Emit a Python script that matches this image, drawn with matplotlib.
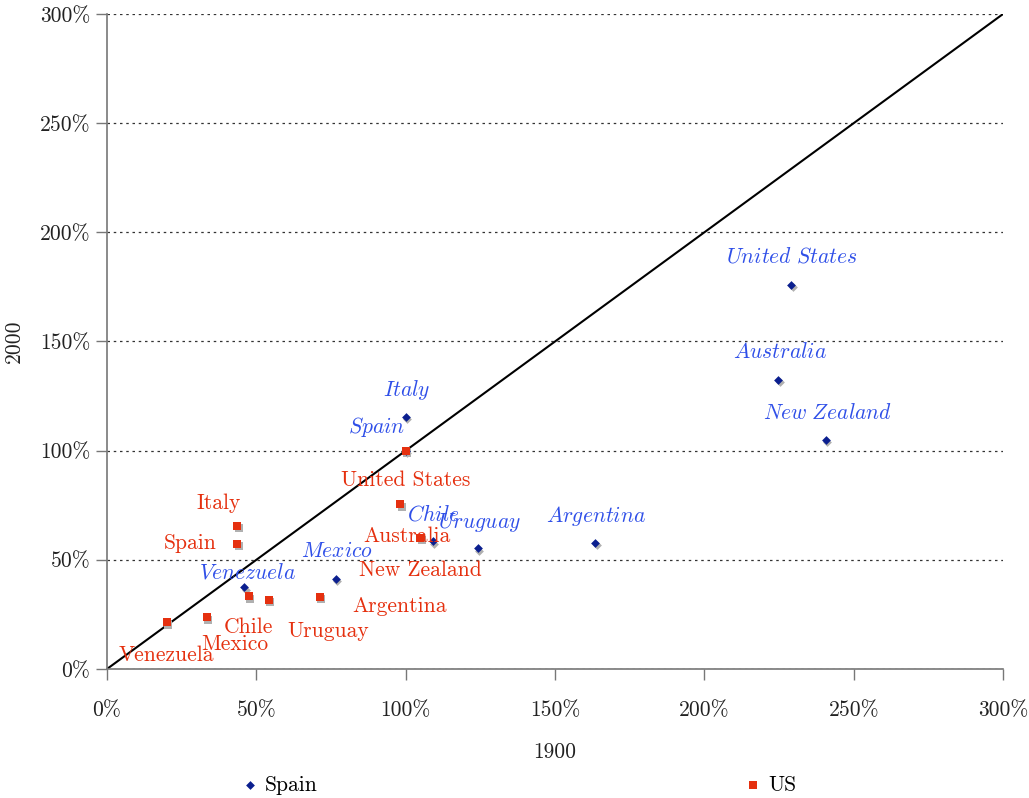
import matplotlib
matplotlib.use("Agg")
import matplotlib.pyplot as plt
import matplotlib.transforms as mtransforms
from matplotlib.ticker import FuncFormatter, MultipleLocator

plt.rcParams['font.family'] = ['cmr10', 'DejaVu Serif']
plt.rcParams['mathtext.fontset'] = 'cm'
plt.rcParams['axes.formatter.use_mathtext'] = True

# GDP per capita relative to Spain / relative to US, 1900 (x) vs 2000 (y)
countries = ["United States", "Australia", "New Zealand", "Italy", "Spain",
             "Chile", "Uruguay", "Argentina", "Mexico", "Venezuela"]
spain_1900 = [2.290, 2.247, 2.407, 1.000, 1.000, 1.091, 1.241, 1.634, 0.766, 0.460]
spain_2000 = [1.759, 1.324, 1.049, 1.156, 1.000, 0.586, 0.553, 0.578, 0.414, 0.374]
us_1900 = [1.000, 0.981, 1.049, 0.436, 0.436, 0.475, 0.541, 0.713, 0.334, 0.200]
us_2000 = [1.000, 0.754, 0.601, 0.655, 0.574, 0.334, 0.316, 0.331, 0.237, 0.214]

# label offsets in pixels (dx, dy)
spain_offsets = [(1, 28), (2, 28), (2, 27), (1, 27), (-29, 24),
                 (1, 27), (2, 26), (1, 27), (1, 28), (3, 15)]
us_offsets = [(0, -30), (7, -32), (0, -32), (-19, 23), (-47, 0),
              (0, -31), (60, -31), (80, -10), (28, -27), (0, -33)]

navy = '#0b1f8f'
blue_txt = '#2f4fe8'
red = '#e5300f'
fs = 15.5

fig = plt.figure(figsize=(10.29, 7.98), dpi=100)
ax = fig.add_axes([0.104, 0.1617, 0.8708, 0.8208])

ax.plot([0, 3], [0, 3], color='black', lw=1.5, zorder=2)

shadow = mtransforms.offset_copy(ax.transData, fig, x=1.5, y=-2.5, units='dots')
ax.scatter(spain_1900, spain_2000, marker='D', s=20, color='#b0b0b0',
           transform=shadow, zorder=3, linewidths=0)
ax.scatter(us_1900, us_2000, marker='s', s=36, color='#b0b0b0',
           transform=shadow, zorder=3, linewidths=0)
ax.scatter(spain_1900, spain_2000, marker='D', s=20, color=navy,
           zorder=4, linewidths=0, label='Spain')
ax.scatter(us_1900, us_2000, marker='s', s=36, color=red,
           zorder=4, linewidths=0, label='US')

for name, x, y, (dx, dy) in zip(countries, spain_1900, spain_2000, spain_offsets):
    ax.annotate(r'$\mathit{' + name.replace(' ', r'\ ') + '}$', (x, y),
                xytext=(dx, dy), textcoords='offset pixels', ha='center',
                va='center', color=blue_txt, fontsize=fs, zorder=5)
for name, x, y, (dx, dy) in zip(countries, us_1900, us_2000, us_offsets):
    ax.annotate(name, (x, y), xytext=(dx, dy), textcoords='offset pixels',
                ha='center', va='center', color=red, fontsize=fs, zorder=5)

ax.set_xlim(0, 3)
ax.set_ylim(0, 3)
ax.xaxis.set_major_locator(MultipleLocator(0.5))
ax.yaxis.set_major_locator(MultipleLocator(0.5))
pct = FuncFormatter(lambda v, p: f"{v * 100:.0f}%")
ax.xaxis.set_major_formatter(pct)
ax.yaxis.set_major_formatter(pct)
ax.yaxis.grid(True, linestyle=(0, (2, 3)), color='#333333', lw=0.9)
ax.set_axisbelow(True)

for s in ['top', 'right']:
    ax.spines[s].set_visible(False)
for s in ['left', 'bottom']:
    ax.spines[s].set_color('#777777')
    ax.spines[s].set_linewidth(1.2)
ax.tick_params(axis='both', colors='#777777', labelcolor='#222222',
               labelsize=fs, length=8, width=1)
ax.tick_params(axis='x', pad=15)
ax.tick_params(axis='y', pad=4)

ax.set_xlabel('1900', fontsize=fs, color='#222222', labelpad=16)
ax.set_ylabel('2000', fontsize=fs, color='#222222', va='center')
ax.yaxis.set_label_coords(-0.104, 0.5)

fig.legend(loc='center', bbox_to_anchor=(0.503, 0.016), ncol=2, frameon=False,
           fontsize=fs, columnspacing=19.7, handlelength=1.0,
           handletextpad=0.2, markerscale=1.0, borderaxespad=0)

fig.savefig('out.png', dpi=100)
